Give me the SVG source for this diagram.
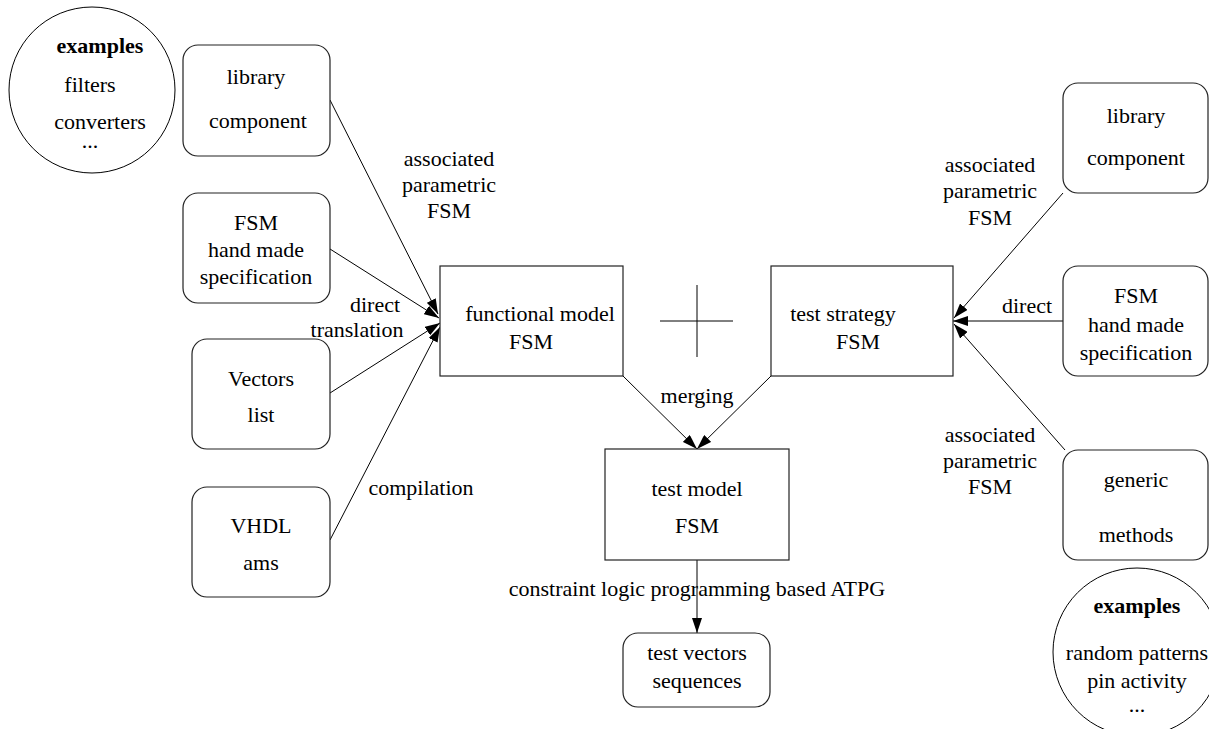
<svg xmlns="http://www.w3.org/2000/svg" width="1209" height="729" viewBox="0 0 1209 729">
<style>
text{font-family:'Liberation Serif','Times New Roman',Times,serif;font-size:22px;fill:#000;text-anchor:middle}
.b{font-weight:bold}
.box{fill:#fff;stroke:#222;stroke-width:1.2}
.ln{stroke:#000;stroke-width:1;fill:none}
</style>
<defs>
<marker id="ah" markerUnits="userSpaceOnUse" markerWidth="16" markerHeight="10" refX="15" refY="5" orient="auto">
<path d="M0,0 L15,5 L0,10 Z" fill="#000"/>
</marker>
</defs>
<rect width="1209" height="729" fill="#fff"/>
<g id="connectors">
<line class="ln" x1="330" y1="100" x2="438" y2="314" marker-end="url(#ah)"/>
<line class="ln" x1="330" y1="249" x2="439" y2="318" marker-end="url(#ah)"/>
<line class="ln" x1="330" y1="393" x2="440" y2="323" marker-end="url(#ah)"/>
<line class="ln" x1="330" y1="540" x2="440" y2="327" marker-end="url(#ah)"/>
<line class="ln" x1="1063" y1="193" x2="954" y2="318" marker-end="url(#ah)"/>
<line class="ln" x1="1063" y1="321" x2="953" y2="321" marker-end="url(#ah)"/>
<line class="ln" x1="1065" y1="450" x2="954" y2="324" marker-end="url(#ah)"/>
<line class="ln" x1="623" y1="376" x2="697" y2="449" marker-end="url(#ah)"/>
<line class="ln" x1="771" y1="376" x2="697" y2="449" marker-end="url(#ah)"/>
<line class="ln" x1="697" y1="560" x2="697" y2="633" marker-end="url(#ah)"/>
<text x="449" y="166">associated</text>
<text x="449" y="192">parametric</text>
<text x="449" y="218">FSM</text>
<text x="375" y="312">direct</text>
<text x="357" y="337">translation</text>
<text x="421" y="495">compilation</text>
<text x="697" y="403">merging</text>
<text x="697" y="596">constraint logic programming based ATPG</text>
<text x="990" y="172">associated</text>
<text x="990" y="198">parametric</text>
<text x="990" y="225">FSM</text>
<text x="1027" y="313">direct</text>
<text x="990" y="442">associated</text>
<text x="990" y="468">parametric</text>
<text x="990" y="494">FSM</text>
</g>
<g id="examples-left">
<circle cx="92" cy="90" r="83" fill="#fff" stroke="#000" stroke-width="1"/>
<text class="b" x="100" y="53">examples</text>
<text x="90" y="92">filters</text>
<text x="100" y="129">converters</text>
<text x="90" y="148">...</text>
</g>
<g id="library-left">
<rect class="box" x="183" y="45" width="147" height="111" rx="15"/>
<text x="256" y="84">library</text>
<text x="258" y="128">component</text>
</g>
<g id="fsm-left">
<rect class="box" x="183" y="193" width="147" height="110" rx="15"/>
<text x="256" y="230">FSM</text>
<text x="256" y="257">hand made</text>
<text x="256" y="284">specification</text>
</g>
<g id="vectors">
<rect class="box" x="192" y="339" width="138" height="110" rx="15"/>
<text x="261" y="386">Vectors</text>
<text x="261" y="422">list</text>
</g>
<g id="vhdl">
<rect class="box" x="192" y="487" width="138" height="110" rx="15"/>
<text x="261" y="533">VHDL</text>
<text x="261" y="570">ams</text>
</g>
<g id="functional-model">
<rect class="box" x="440" y="266" width="183" height="110"/>
<text x="540" y="321">functional model</text>
<text x="531" y="349">FSM</text>
</g>
<g id="plus">
<line class="ln" x1="660" y1="321" x2="733" y2="321"/>
<line class="ln" x1="697" y1="285" x2="697" y2="357"/>
</g>
<g id="test-strategy">
<rect class="box" x="771" y="266" width="182" height="110"/>
<text x="843" y="321">test strategy</text>
<text x="858" y="349">FSM</text>
</g>
<g id="test-model">
<rect class="box" x="605" y="449" width="184" height="111"/>
<text x="697" y="496">test model</text>
<text x="697" y="533">FSM</text>
</g>
<g id="test-vectors">
<rect class="box" x="623" y="633" width="147" height="74" rx="15"/>
<text x="697" y="660">test vectors</text>
<text x="697" y="688">sequences</text>
</g>
<g id="library-right">
<rect class="box" x="1063" y="83" width="145" height="110" rx="15"/>
<text x="1136" y="123">library</text>
<text x="1136" y="165">component</text>
</g>
<g id="fsm-right">
<rect class="box" x="1063" y="266" width="145" height="110" rx="15"/>
<text x="1136" y="303">FSM</text>
<text x="1136" y="332">hand made</text>
<text x="1136" y="360">specification</text>
</g>
<g id="generic-methods">
<rect class="box" x="1063" y="450" width="145" height="110" rx="15"/>
<text x="1136" y="487">generic</text>
<text x="1136" y="542">methods</text>
</g>
<g id="examples-right">
<circle cx="1137" cy="652" r="84" fill="#fff" stroke="#000" stroke-width="1"/>
<text class="b" x="1137" y="613">examples</text>
<text x="1137" y="660">random patterns</text>
<text x="1137" y="688">pin activity</text>
<text x="1137" y="712">...</text>
</g>
</svg>
